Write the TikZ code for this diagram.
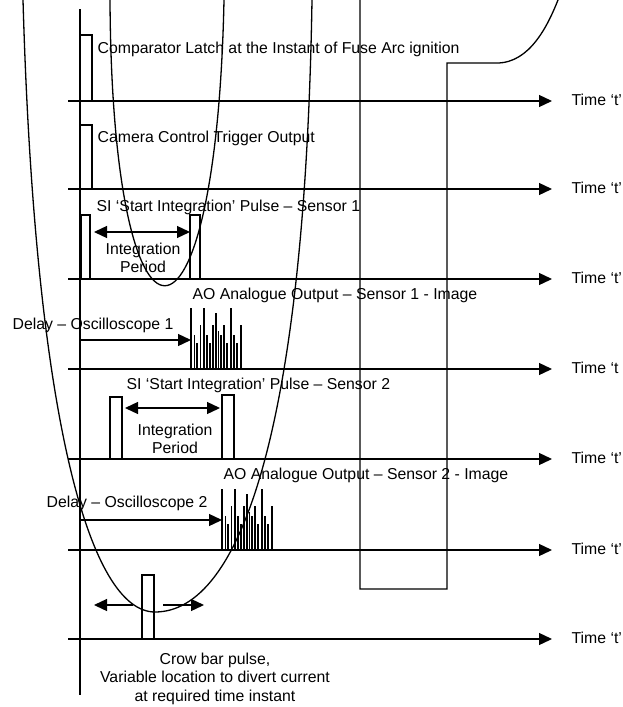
\documentclass[tikz,border=0pt]{standalone}
\usepackage{fontspec}
\setmainfont{Liberation Sans}
\usetikzlibrary{arrows.meta}
\tikzset{
    % big filled heads, as in the original timing chart
    >={Triangle[length=13pt,width=12pt]},
    lbl/.style={font=\fontsize{15.8}{18.5}\selectfont,inner sep=0pt,anchor=base west},
    spike/.style={line width=1.1pt},
}

\begin{document}
\begin{tikzpicture}[x=1pt,y=-1pt,line width=1.3pt]
    \useasboundingbox (0,0) rectangle (623,707);
    % common vertical axis and the seven time axes
    \draw (80,9) -- (80,695);
    \foreach \y/\lab [count=\i] in {101/Time ‘t’,189/Time ‘t’,279/Time ‘t’,369/Time ‘t,459/Time ‘t’,550/Time ‘t’,639/Time ‘t’}
    {
    \draw[->] (68,\y) -- (552,\y);
    \node[lbl,anchor=west] (time\i) at (571,\y-1) {\lab};
    }
    % comparator latch and camera trigger
    \draw (80,101) |- (92,35) -- (92,101);
    \node[lbl] (latch) at (97,53) {Comparator Latch at the Instant of Fuse Arc ignition};
    \draw (80,189) |- (92,125) -- (92,189);
    \node[lbl] (camera) at (97,142) {Camera Control Trigger Output};
    % sensor 1
    \draw (81,279) |- (90,215) -- (90,279);
    \draw (190,279) |- (200,215) -- (200,279);
    \draw[<->] (94,232) -- (190,232);
    \node[lbl] (si1) at (96,211) {SI ‘Start Integration’ Pulse – Sensor 1};
    \node[lbl,anchor=north,align=center] (int1) at (143,242) {Integration\\Period};
    \node[lbl] (ao1) at (192,299) {AO Analogue Output – Sensor 1 - Image};
    \node[lbl] (delay1) at (12,329) {Delay – Oscilloscope 1};
    \draw[->] (80,340) -- (191,340);
    \foreach \dx/\h in {0/61,3.5/34,6/26,9.5/44,13/61,16/34,19/26,22/44,25/56,27.5/38,30/34,33/44,36/26,40/61,43/34,46/26,50/44}
    \draw[spike] (191+\dx,369) -- ++(0,-\h);
    % sensor 2
    \draw (110,459) |- (122,397) -- (122,459);
    \draw (222,459) |- (234,395) -- (234,459);
    \draw[<->] (125,408) -- (220,408);
    \node[lbl] (si2) at (126,389) {SI ‘Start Integration’ Pulse – Sensor 2};
    \node[lbl,anchor=north,align=center] (int2) at (175,423) {Integration\\Period};
    \node[lbl] (ao2) at (223,479) {AO Analogue Output – Sensor 2 - Image};
    \node[lbl] (delay2) at (46,507) {Delay – Oscilloscope 2};
    \draw[->] (80,520) -- (222,520);
    \foreach \dx/\h in {0/61,3.5/34,6/26,9.5/44,13/61,16/34,19/26,22/44,25/56,27.5/38,30/34,33/44,36/26,40/61,43/34,46/26,50/44}
    \draw[spike] (222+\dx,550) -- ++(0,-\h);
    % crow bar pulse
    \draw (142,639) |- (154,575) -- (154,639);
    \draw[->] (133,605) -- (94,605);
    \draw[->] (163,605) -- (204,605);
    \node[lbl,anchor=north,align=center] (crow) at (215,652) {Crow bar pulse,\\Variable location to divert current\\at required time instant};
    % fuse current trace
    \draw (360,0) -- (360,589) -- (447,589) -- (447,63) -- (497,63) .. controls (530,63) and (548,25) .. (558,0);
    % the two U sweeps
    \draw (23,0) .. controls (35,420) and (90,612) .. (155,612) .. controls (240,612) and (305,430) .. (312,0);
    \draw (110,0) .. controls (112,381) and (216,381) .. (224,0);
\end{tikzpicture}
\end{document}
